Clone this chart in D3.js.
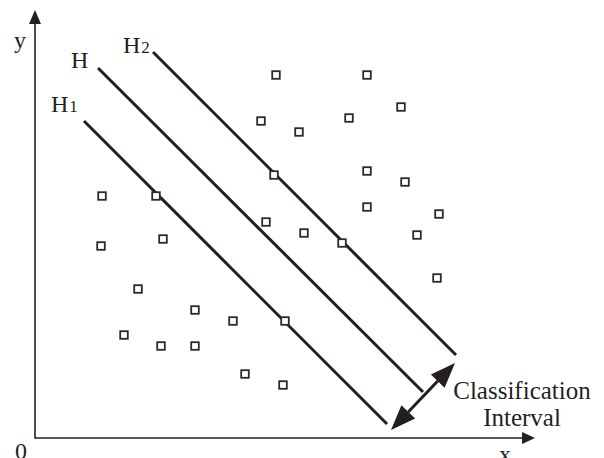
<!DOCTYPE html>
<html>
<head>
<meta charset="utf-8">
<script src="https://cdn.jsdelivr.net/npm/d3@7"></script>
<style>
html,body{margin:0;padding:0;background:#fff;}
svg{display:block;}
text{font-family:"Liberation Serif","DejaVu Serif",serif;fill:#231f20;}
</style>
</head>
<body>
<svg id="chart" width="604" height="458"></svg>
<script>
// ---- data (chart units) ----
const pointX = [1.34,2.42,1.32,2.56,2.06,3.20,3.96,5.00,1.78,2.52,3.20,4.20,4.96,
                4.62,4.78,4.82,6.64,7.32,4.52,6.28,5.28,6.64,7.40,6.64,8.08,5.38,6.14,7.64,8.04];
const pointY = [4.84,4.84,3.84,3.98,2.98,2.56,2.34,2.34,2.06,1.84,1.84,1.28,1.06,
                4.32,5.26,7.26,7.26,6.62,6.34,6.40,6.12,5.34,5.12,4.62,4.48,4.10,3.90,4.06,3.20];
const lineNames = ["H1","H","H2"];
const lineStart = [[0.98,6.34],[1.26,7.40],[2.36,7.72]];
const lineEnd   = [[7.04,0.28],[7.76,0.92],[8.42,1.66]];
const intervalArrow = [[7.12,0.16],[8.40,1.50]];
const intervalLabel = ["Classification","Interval"];
const axisMax = [10, 8.56];

// ---- scales ----
const x = d3.scaleLinear().domain([0, axisMax[0]]).range([35, 535]);
const y = d3.scaleLinear().domain([0, axisMax[1]]).range([438, 10]);
const ink = "#231f20";

const svg = d3.select("#chart");

function arrowHead(g, tip, from, len, half){
  const dx = tip[0]-from[0], dy = tip[1]-from[1];
  const L = Math.hypot(dx,dy), ux = dx/L, uy = dy/L;
  const bx = tip[0]-ux*len, by = tip[1]-uy*len;
  const px = -uy, py = ux;
  g.append("path")
    .attr("d", `M${tip[0]},${tip[1]}L${bx+px*half},${by+py*half}L${bx-px*half},${by-py*half}Z`)
    .attr("fill", ink);
  return [bx,by];
}

// ---- axes ----
const ax = svg.append("g");
const o = [x(0), y(0)];
const xt = [x(axisMax[0]), y(0)];
const yt = [x(0), y(axisMax[1])];
ax.append("line").attr("x1",o[0]).attr("y1",o[1]).attr("x2",xt[0]-10).attr("y2",xt[1])
  .attr("stroke",ink).attr("stroke-width",1.6);
ax.append("line").attr("x1",o[0]).attr("y1",o[1]+0.8).attr("x2",yt[0]).attr("y2",yt[1]+10)
  .attr("stroke",ink).attr("stroke-width",1.6);
arrowHead(ax, xt, o, 13, 6);
arrowHead(ax, yt, o, 14, 6);

ax.append("text").attr("x",21).attr("y",459).attr("text-anchor","middle")
  .attr("font-size",24).text("0");
ax.append("text").attr("x",505).attr("y",462).attr("text-anchor","middle")
  .attr("font-size",24).text("x");
ax.append("text").attr("x",20).attr("y",48).attr("text-anchor","middle")
  .attr("font-size",24).text("y");

// ---- hyperplanes ----
const lg = svg.append("g");
lineNames.forEach((n,i)=>{
  lg.append("line")
    .attr("x1", x(lineStart[i][0])).attr("y1", y(lineStart[i][1]))
    .attr("x2", x(lineEnd[i][0])).attr("y2", y(lineEnd[i][1]))
    .attr("stroke", ink).attr("stroke-width", 3);
});
// labels
const labelPos = [[51,112],[71,68],[123,53]];
lineNames.forEach((n,i)=>{
  const t = lg.append("text").attr("x",labelPos[i][0]).attr("y",labelPos[i][1]).attr("font-size",24);
  t.append("tspan").text("H");
  if(n.length>1) t.append("tspan").attr("font-size",17).attr("dx",1).text(n.slice(1));
});

// ---- points ----
const pts = pointX.map((v,i)=>[v, pointY[i]]);
svg.append("g").selectAll("rect").data(pts).join("rect")
  .attr("x", d=>x(d[0])-3.8).attr("y", d=>y(d[1])-3.8)
  .attr("width",7.6).attr("height",7.6)
  .attr("fill","#fff").attr("stroke","#2b2b2b").attr("stroke-width",1.8);

// ---- classification interval arrow ----
const ag = svg.append("g");
const a0 = [x(intervalArrow[0][0]), y(intervalArrow[0][1])];
const a1 = [x(intervalArrow[1][0]), y(intervalArrow[1][1])];
const b1 = arrowHead(ag, a1, a0, 25, 9.5);
const b0 = arrowHead(ag, a0, a1, 25, 9.5);
ag.append("line").attr("x1",b0[0]).attr("y1",b0[1]).attr("x2",b1[0]).attr("y2",b1[1])
  .attr("stroke",ink).attr("stroke-width",3);

ag.selectAll("text.lab").data(intervalLabel).join("text")
  .attr("class","lab")
  .attr("x",522).attr("y",(d,i)=>399+i*27)
  .attr("text-anchor","middle").attr("font-size",25)
  .text(d=>d);
</script>
</body>
</html>
